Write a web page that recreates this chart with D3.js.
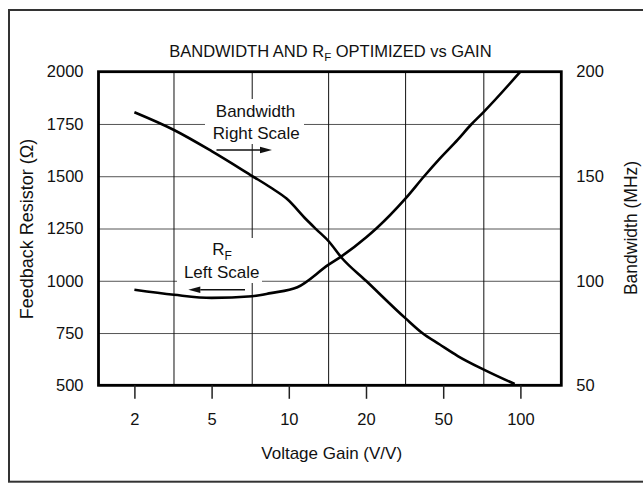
<!DOCTYPE html>
<html>
<head>
<meta charset="utf-8">
<script src="https://cdn.jsdelivr.net/npm/d3@7"></script>
<style>
  html, body { margin: 0; padding: 0; background: #fff; }
  svg { display: block; font-family: "Liberation Sans", Arial, Helvetica, sans-serif; }
</style>
</head>
<body>
<svg id="chart" width="643" height="483"></svg>
<script>
// ---- data ----
const gains = [2, 5, 10, 20, 50, 100];
const gainLabels = ["2", "5", "10", "20", "50", "100"];
const gridGains = [3.2, 7.2, 14.3, 32, 72];
const rfTicks = [500, 750, 1000, 1250, 1500, 1750, 2000];
const bwTicks = [50, 100, 150, 200];

// R_F curve (left scale, ohms)
const rfGain = [2, 3.2, 5, 7.2, 8.5, 10.8, 14.3, 16.1, 20, 22.6, 32, 40, 48, 57, 64, 72, 100];
const rfOhms = [957, 933, 918, 926, 941, 969, 1077, 1118, 1207, 1250, 1394, 1501, 1584, 1675, 1745, 1808, 2000];

// Bandwidth curve (right scale, MHz)
const bwGain = [2, 3.2, 5, 7.2, 8.5, 9.8, 11.7, 12.8, 14.3, 16.1, 20, 32, 39, 48, 57, 72, 95];
const bwMHz = [180.6, 172.1, 162, 150.1, 144.6, 139.3, 129.3, 124.6, 118.9, 110.9, 100, 82, 75, 69.5, 64, 57.5, 50.6];

const titleMain = "BANDWIDTH AND R";
const titleSub = "F";
const titleRest = " OPTIMIZED vs GAIN";

// ---- layout ----
const plotL = 98.5, plotR = 561.3, plotT = 71.7, plotB = 385.3;
const tick0 = 134.4, step = 77.2;
const ink = "#111";

const svg = d3.select("#chart");

const x = d3.scaleLog()
  .domain(gains)
  .range(gains.map((_, i) => tick0 + i * step));
const yL = d3.scaleLinear().domain([500, 2000]).range([plotB, plotT]);
const yR = d3.scaleLinear().domain([50, 200]).range([plotB, plotT]);

// outer frame
svg.append("rect")
  .attr("x", 9).attr("y", 10).attr("width", 660).attr("height", 471.7)
  .attr("fill", "none").attr("stroke", "#333").attr("stroke-width", 2);

// title
const title = svg.append("text")
  .attr("x", 330.4).attr("y", 57)
  .attr("text-anchor", "middle")
  .attr("font-size", 16.5).attr("fill", ink);
title.append("tspan").text(titleMain);
title.append("tspan").attr("font-size", 11.5).attr("dy", 4).text(titleSub);
title.append("tspan").attr("dy", -4).text(titleRest);

// horizontal gridlines (via left axis)
const gridH = svg.append("g").attr("transform", `translate(${plotL},0)`)
  .call(d3.axisRight(yL).tickValues(rfTicks).tickSize(plotR - plotL).tickFormat(""));
gridH.select(".domain").remove();
gridH.selectAll("line").attr("stroke", "#555").attr("stroke-width", 1);

// vertical gridlines
svg.append("g").selectAll("line").data(gridGains).join("line")
  .attr("x1", d => x(d)).attr("x2", d => x(d))
  .attr("y1", plotT).attr("y2", plotB)
  .attr("stroke", ink).attr("stroke-width", 1);

// label background boxes
svg.append("rect").attr("x", 205).attr("y", 99).attr("width", 99).attr("height", 45).attr("fill", "#fff");
svg.append("rect").attr("x", 177).attr("y", 238).attr("width", 85).attr("height", 45).attr("fill", "#fff");

// annotations
svg.append("text").attr("x", 255.5).attr("y", 116.5).attr("text-anchor", "middle")
  .attr("font-size", 17).attr("fill", ink).text("Bandwidth");
svg.append("text").attr("x", 256.3).attr("y", 138.5).attr("text-anchor", "middle")
  .attr("font-size", 17).attr("fill", ink).text("Right Scale");
const rf = svg.append("text").attr("x", 222).attr("y", 254.7).attr("text-anchor", "middle")
  .attr("font-size", 17).attr("fill", ink);
rf.append("tspan").text("R");
rf.append("tspan").attr("font-size", 12).attr("dy", 5).text("F");
svg.append("text").attr("x", 221.7).attr("y", 278).attr("text-anchor", "middle")
  .attr("font-size", 17).attr("fill", ink).text("Left Scale");

function arrow(x1, x2, yy) {
  const dir = Math.sign(x2 - x1);
  const head = 12, hw = 3.2;
  svg.append("line").attr("x1", x1).attr("x2", x2 - dir * head).attr("y1", yy).attr("y2", yy)
    .attr("stroke", ink).attr("stroke-width", 1.5);
  svg.append("path")
    .attr("d", `M${x2},${yy} L${x2 - dir * head},${yy - hw} L${x2 - dir * head},${yy + hw} Z`)
    .attr("fill", ink);
}
arrow(216.5, 272, 150);
arrow(245, 188.3, 289.7);

// curves
const line = d3.line().curve(d3.curveMonotoneX);
svg.append("path")
  .attr("d", line(rfGain.map((g, i) => [x(g), yL(rfOhms[i])])))
  .attr("fill", "none").attr("stroke", "#000").attr("stroke-width", 2.6);
svg.append("path")
  .attr("d", line(bwGain.map((g, i) => [x(g), yR(bwMHz[i])])))
  .attr("fill", "none").attr("stroke", "#000").attr("stroke-width", 2.6);

// plot border
svg.append("rect")
  .attr("x", plotL).attr("y", plotT).attr("width", plotR - plotL).attr("height", plotB - plotT)
  .attr("fill", "none").attr("stroke", "#000").attr("stroke-width", 2.8);

// x axis ticks and labels
const xAxis = svg.append("g").attr("transform", `translate(0,${plotB})`)
  .call(d3.axisBottom(x).tickValues(gains).tickSize(13.5).tickPadding(14)
    .tickFormat((d, i) => gainLabels[i]));
xAxis.attr("font-family", null).attr("font-size", null);
xAxis.select(".domain").remove();
xAxis.selectAll("line").attr("stroke", "#222").attr("stroke-width", 1.5);
xAxis.selectAll("text").attr("font-size", 16.5).attr("fill", ink);

// left axis labels
const yAxisL = svg.append("g").attr("transform", `translate(${plotL},0)`)
  .call(d3.axisLeft(yL).tickValues(rfTicks).tickSize(0).tickPadding(15).tickFormat(d3.format("d")));
yAxisL.attr("font-family", null).attr("font-size", null);
yAxisL.select(".domain").remove();
yAxisL.selectAll("text").attr("font-size", 16.5).attr("fill", ink);

// right axis labels
const yAxisR = svg.append("g").attr("transform", `translate(${plotR},0)`)
  .call(d3.axisRight(yR).tickValues(bwTicks).tickSize(0).tickPadding(15).tickFormat(d3.format("d")));
yAxisR.attr("font-family", null).attr("font-size", null);
yAxisR.select(".domain").remove();
yAxisR.selectAll("text").attr("font-size", 16.5).attr("fill", ink);

// axis titles
svg.append("text").attr("x", 331.7).attr("y", 458.5).attr("text-anchor", "middle")
  .attr("font-size", 17).attr("fill", ink).text("Voltage Gain (V/V)");
svg.append("text").attr("transform", "translate(33,229) rotate(-90)").attr("text-anchor", "middle")
  .attr("font-size", 18).attr("fill", ink).text("Feedback Resistor (\u03A9)");
svg.append("text").attr("transform", "translate(637,228) rotate(-90)").attr("text-anchor", "middle")
  .attr("font-size", 17.5).attr("fill", ink).text("Bandwidth (MHz)");
</script>
</body>
</html>
